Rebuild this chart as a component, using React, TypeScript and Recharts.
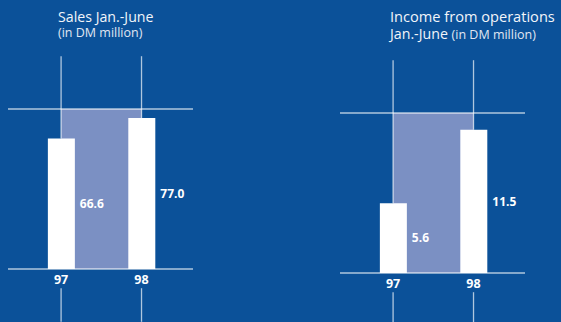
import { ComposedChart, Bar, XAxis, YAxis, ReferenceArea, ReferenceLine, LabelList } from "recharts"

const years = [97, 98]
const salesValues = [66.6, 77.0]
const incomeValues = [5.6, 11.5]
// height of the upper frame line, in DM million
const salesFrame = 81.6
const incomeFrame = 12.85

const BG = "#0b5199"
const SHADE = "#7b90c3"
const GUIDE = "rgba(255,255,255,0.68)"
const FONT = "'Open Sans', 'Noto Sans', sans-serif"

interface PanelProps {
    values: number[]
    frame: number
    left: number
    width: number
    margin: { top: number; right: number; bottom: number; left: number }
}

function Panel({ values, frame, left, width, margin }: PanelProps) {
    const data = years.map((year, i) => ({ year, value: values[i] }))
    const above = frame * 0.33
    const belowStart = -frame * 0.12
    const belowEnd = -frame * 0.33

    return (
        <div style={{ position: "absolute", left, top: 0 }}>
            <ComposedChart width={width} height={322} data={data} margin={margin} style={{ overflow: "visible" }}>
                <XAxis
                    type="number"
                    dataKey="year"
                    domain={[96.34, 98.64]}
                    ticks={years}
                    allowDataOverflow
                    tickLine={false}
                    tickMargin={0}
                    axisLine={{ stroke: GUIDE, strokeWidth: 1.3 }}
                    tick={{ fill: "#ffffff", fontSize: 12.5, fontWeight: 700, fontFamily: FONT }}
                    height={30}
                />
                <YAxis hide type="number" domain={[0, frame]} allowDataOverflow />
                <ReferenceArea x1={97} x2={98} y1={0} y2={frame} fill={SHADE} fillOpacity={1} stroke="none" />
                <ReferenceLine y={frame} stroke={GUIDE} strokeWidth={1.3} />
                {data.map((d) => (
                    <ReferenceLine
                        key={`top-${d.year}`}
                        ifOverflow="visible"
                        segment={[{ x: d.year, y: frame + above }, { x: d.year, y: d.value }]}
                        stroke={GUIDE}
                        strokeWidth={1.3}
                    />
                ))}
                {data.map((d) => (
                    <ReferenceLine
                        key={`bottom-${d.year}`}
                        ifOverflow="visible"
                        segment={[{ x: d.year, y: belowStart }, { x: d.year, y: belowEnd }]}
                        stroke={GUIDE}
                        strokeWidth={1.3}
                    />
                ))}
                <Bar dataKey="value" fill="#ffffff" barSize={27} isAnimationActive={false}>
                    <LabelList
                        dataKey="value"
                        position="right"
                        offset={5}
                        formatter={(v: number) => v.toFixed(1)}
                        fill="#ffffff"
                        fontSize={12}
                        fontWeight={700}
                        fontFamily={FONT}
                    />
                </Bar>
            </ComposedChart>
        </div>
    )
}

const titleStyle = { fontSize: 14.2, color: "#f2f5fa", lineHeight: "17px", fontWeight: 400 }
const subStyle = { fontSize: 12.5, color: "#e0e7f2", fontWeight: 400 }

export default function App() {
    return (
        <div
            style={{
                position: "absolute",
                left: 0,
                top: 0,
                width: 561,
                height: 322,
                background: BG,
                overflow: "hidden",
                fontFamily: FONT,
            }}
        >
            <div style={{ position: "absolute", left: 58, top: 8 }}>
                <div style={titleStyle}>Sales Jan.-June</div>
                <div style={{ ...subStyle, lineHeight: "15px" }}>(in DM million)</div>
            </div>
            <div style={{ position: "absolute", left: 390, top: 8, whiteSpace: "nowrap" }}>
                <div style={{ ...titleStyle, fontSize: 14.6 }}>Income from operations</div>
                <div style={{ ...titleStyle, fontWeight: 500 }}>
                    Jan.-June <span style={subStyle}>(in DM million)</span>
                </div>
            </div>
            <Panel
                values={salesValues}
                frame={salesFrame}
                left={0}
                width={280}
                margin={{ top: 109, left: 8, right: 87, bottom: 23 }}
            />
            <Panel
                values={incomeValues}
                frame={incomeFrame}
                left={280}
                width={281}
                margin={{ top: 113, left: 60, right: 36, bottom: 19 }}
            />
        </div>
    )
}
